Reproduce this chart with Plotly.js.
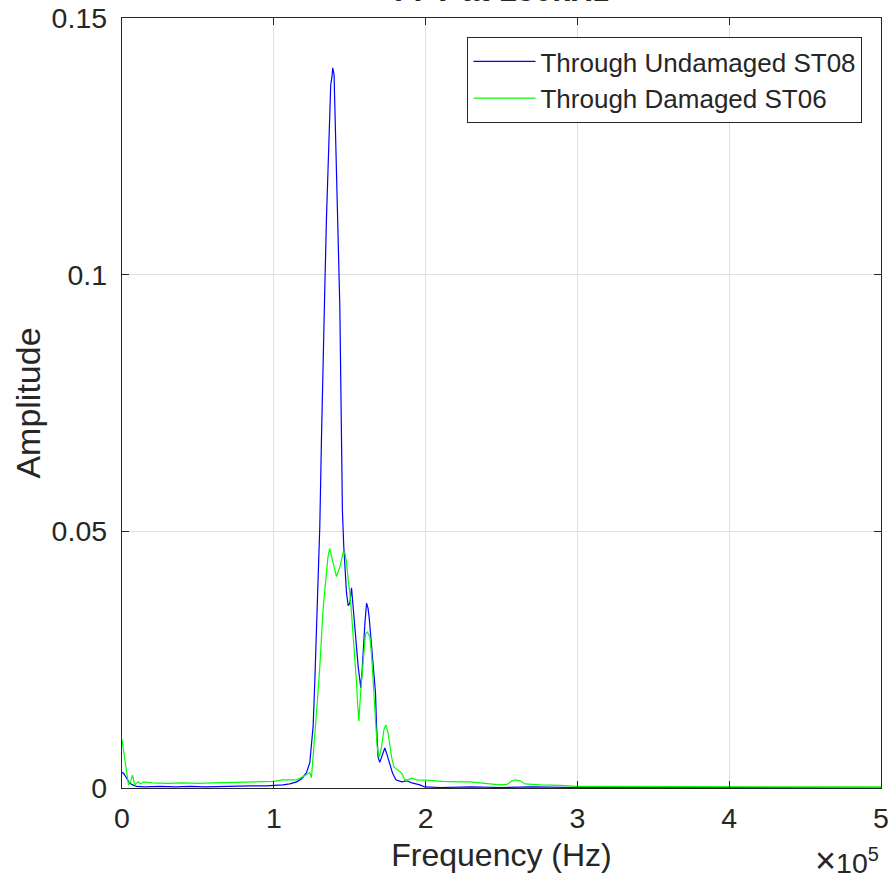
<!DOCTYPE html>
<html>
<head>
<meta charset="utf-8">
<script src="https://cdn.plot.ly/plotly-3.0.1.min.js"></script>
<style>html,body{margin:0;padding:0;background:#fff;}#chart{width:895px;height:876px;}</style>
</head>
<body>
<div id="chart"></div>
<script>
// Through Undamaged ST08 (blue)
const freqUndamaged = [0, 990, 2500, 3600, 4900, 6900, 9600, 15000, 25000, 35000, 45000, 55000, 65000, 75000, 85000, 95000, 102000,
  105900, 110500, 115100, 118400, 121500, 123700, 124800, 125900, 127000, 128100, 129100, 130300, 131400, 132400,
  133600, 134700, 135700, 136700, 137500, 138400, 138800, 139700, 140400, 141300, 142600, 143500, 144300, 145200,
  146100, 147000, 147900, 149000, 150100, 151200, 152300, 153400, 154500, 155600, 156700, 157300, 158200, 158800,
  160000, 161100, 162100, 162800, 163900, 165000, 165900, 167000, 167700, 168200, 168700, 169800, 171600, 173100,
  174700, 176400, 178200, 180400, 184200, 187500, 191000, 196200, 199500, 210000, 230000, 250000, 270000, 300000,
  350000, 400000, 450000, 500000];
const ampUndamaged = [0.0030, 0.0029, 0.0022, 0.0016, 0.0010, 0.0006, 0.0003, 0.0002, 0.0003, 0.0002, 0.0003, 0.0002, 0.0003, 0.0003, 0.0004, 0.0004, 0.0005,
  0.0006, 0.0008, 0.0012, 0.0018, 0.0030, 0.0049, 0.0080, 0.0120, 0.0207, 0.0300, 0.0405, 0.0510, 0.0680, 0.0840,
  0.0974, 0.1110, 0.1214, 0.1320, 0.1370, 0.1387, 0.1403, 0.1390, 0.1307, 0.1223, 0.1093, 0.0937, 0.0750, 0.0540,
  0.0470, 0.0420, 0.0380, 0.0355, 0.0360, 0.0390, 0.0350, 0.0310, 0.0270, 0.0236, 0.0210, 0.0195, 0.0230, 0.0270,
  0.0320, 0.0360, 0.0350, 0.0333, 0.0294, 0.0270, 0.0230, 0.0185, 0.0120, 0.0074, 0.0060, 0.0050, 0.0068, 0.0078,
  0.0064, 0.0049, 0.0029, 0.0016, 0.0012, 0.0014, 0.0010, 0.0006, 0.0002, 0.0001, 0.0002, 0.0001, 0.0002, 0.0001,
  0.0001, 0.0001, 0.0001, 0.0000];

// Through Damaged ST06 (green)
const freqDamaged = [0, 1850, 3200, 4300, 5600, 6900, 8400, 10700, 12200, 14200, 20000, 30000, 40000, 50000, 60000, 70000, 80000, 90000, 100000,
  105900, 115100, 119100, 123700, 124800, 125900, 128100, 130300, 131400, 132400, 133600, 134700, 135700, 136800,
  137900, 139000, 140200, 141300, 142400, 143500, 144600, 145600, 146800, 147900, 149000, 150100, 151200, 152300,
  153400, 154500, 155100, 156000, 157300, 158400, 159500, 160400, 161700, 163300, 164400, 165400, 166500, 167200,
  168100, 169400, 171000, 172500, 173800, 175300, 176400, 177600, 179100, 181900, 184200, 186300, 188500, 190800,
  194300, 202800, 211400, 222600, 229200, 242400, 249000, 253600, 256300, 258900, 262200, 265500, 275400, 288600,
  299800, 320000, 350000, 400000, 450000, 500000];
const ampDamaged = [0.0094, 0.0060, 0.0035, 0.0006, 0.0012, 0.0025, 0.0006, 0.0012, 0.0008, 0.0012, 0.0010, 0.0009, 0.0010, 0.0009, 0.0010, 0.0011, 0.0011, 0.0012, 0.0013,
  0.0016, 0.0016, 0.0022, 0.0030, 0.0020, 0.0068, 0.0146, 0.0236, 0.0300, 0.0345, 0.0386, 0.0420, 0.0450, 0.0467,
  0.0455, 0.0438, 0.0425, 0.0412, 0.0420, 0.0430, 0.0445, 0.0458, 0.0458, 0.0440, 0.0405, 0.0380, 0.0340, 0.0300,
  0.0255, 0.0205, 0.0170, 0.0130, 0.0190, 0.0230, 0.0263, 0.0300, 0.0304, 0.0294, 0.0260, 0.0216, 0.0170, 0.0125,
  0.0080, 0.0060, 0.0080, 0.0113, 0.0123, 0.0107, 0.0080, 0.0060, 0.0041, 0.0035, 0.0029, 0.0016, 0.0016, 0.0019,
  0.0016, 0.0015, 0.0013, 0.0012, 0.0012, 0.0008, 0.0006, 0.0007, 0.0013, 0.0016, 0.0014, 0.0008, 0.0006, 0.0005,
  0.0003, 0.0003, 0.0003, 0.0003, 0.0003, 0.0002];

const xTickVals = [0, 100000, 200000, 300000, 400000, 500000];
const xTickText = ['0', '1', '2', '3', '4', '5'];
const yTickVals = [0, 0.05, 0.1, 0.15];
const yTickText = ['0', '0.05', '0.1', '0.15'];

const seriesNames = ['Through Undamaged ST08', 'Through Damaged ST06'];
const titleText = 'FFT at 150kHz';

const axisColor = '#262626';
const fontFam = '"Liberation Sans", Arial, Helvetica, sans-serif';

const traces = [
  {x: freqUndamaged, y: ampUndamaged, type: 'scatter', mode: 'lines', name: seriesNames[0],
   line: {color: '#0000ff', width: 1.2}},
  {x: freqDamaged, y: ampDamaged, type: 'scatter', mode: 'lines', name: seriesNames[1],
   line: {color: '#00ff00', width: 1.2}}
];

const axisCommon = {
  showline: true, linecolor: axisColor, linewidth: 1.2, mirror: 'ticks',
  ticks: 'inside', ticklen: 7, tickwidth: 1, tickcolor: axisColor,
  showgrid: true, gridcolor: '#dfdfdf', gridwidth: 1, zeroline: false,
  tickfont: {family: fontFam, size: 28.5, color: axisColor}
};

const layout = {
  width: 895, height: 876,
  margin: {l: 122, r: 14, t: 18, b: 88},
  paper_bgcolor: '#ffffff', plot_bgcolor: '#ffffff',
  showlegend: true,
  xaxis: Object.assign({}, axisCommon, {
    range: [0, 500000], tickmode: 'array', tickvals: xTickVals, ticktext: xTickText,
    ticklabelstandoff: 5,
    title: {text: 'Frequency (Hz)', font: {family: fontFam, size: 32, color: axisColor}, standoff: 10}
  }),
  yaxis: Object.assign({}, axisCommon, {
    range: [0, 0.15], tickmode: 'array', tickvals: yTickVals, ticktext: yTickText,
    ticklabelstandoff: 8,
    title: {text: 'Amplitude', font: {family: fontFam, size: 34, color: axisColor}, standoff: 0}
  }),
  legend: {
    x: 0.9756, xanchor: 'right', y: 0.9753, yanchor: 'top',
    bgcolor: '#ffffff', bordercolor: axisColor, borderwidth: 1,
    font: {family: fontFam, size: 26, color: axisColor},
    itemwidth: 62, tracegroupgap: 0
  },
  annotations: [
    {xref: 'paper', yref: 'paper', x: 1, y: 0, xanchor: 'right', yanchor: 'top',
     yshift: -50, showarrow: false,
     text: '<span style="font-size:36px">\u00d7</span>10<sup>5</sup>',
     font: {family: fontFam, size: 28.5, color: axisColor}},
    {xref: 'paper', yref: 'paper', x: 0.5, y: 1, xanchor: 'center', yanchor: 'bottom',
     yshift: 8, showarrow: false, text: '<b>' + titleText + '</b>',
     font: {family: fontFam, size: 32, color: axisColor}}
  ]
};

Plotly.newPlot('chart', traces, layout, {displayModeBar: false, staticPlot: true});
</script>
</body>
</html>
